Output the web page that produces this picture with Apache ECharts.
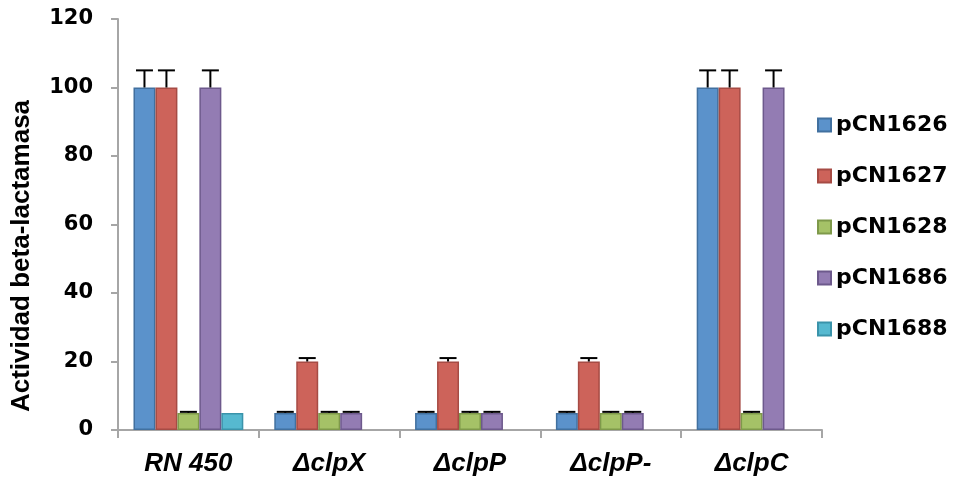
<!DOCTYPE html>
<html lang="es">
<head>
  <meta charset="UTF-8">
  <title>Actividad beta-lactamasa</title>
  <style>
    html,
    body {
      padding: 0;
      margin: 0;
      background: #fff;
    }
    #chart {
      width: 953px;
      height: 479px;
    }
  </style>
  <script src="https://cdn.jsdelivr.net/npm/echarts@6.0.0/dist/echarts.min.js"></script>
</head>
<body>
  <div id="chart"></div>
  <script>
    const categories = ['RN 450', 'ΔclpX', 'ΔclpP', 'ΔclpP-', 'ΔclpC']
    const seriesNames = ['pCN1626', 'pCN1627', 'pCN1628', 'pCN1686', 'pCN1688']
    const pCN1626 = [100, 5, 5, 5, 100]
    const pCN1627 = [100, 20, 20, 20, 100]
    const pCN1628 = [5, 5, 5, 5, 5]
    const pCN1686 = [100, 5, 5, 5, 100]
    const pCN1688 = [5, null, null, null, null]
    const err1626 = [5, 0.3, 0.3, 0.3, 5]
    const err1627 = [5, 1, 1, 1, 5]
    const err1628 = [0.3, 0.3, 0.3, 0.3, 0.3]
    const err1686 = [5, 0.3, 0.3, 0.3, 5]
    const err1688 = [null, null, null, null, null]
    const yTicks = [0, 20, 40, 60, 80, 100, 120]

    const values = [pCN1626, pCN1627, pCN1628, pCN1686, pCN1688]
    const errors = [err1626, err1627, err1628, err1686, err1688]
    const fills = ['#5b92cb', '#cd635a', '#a5c267', '#937cb3', '#56b9d0']
    const borders = ['#41709f', '#a64b44', '#7e994a', '#6d598c', '#3a93aa']

    const wideFont = 'DejaVu Sans'
    const arialFont = 'Liberation Sans'
    const catGap = 0.22
    const axisColor = '#a6a6a6'

    const chart = echarts.init(document.getElementById('chart'))

    // error bar points: [category, series, value, err]
    const errData = []
    values.forEach((vals, s) => {
      vals.forEach((v, c) => {
        const e = errors[s][c]
        if (v != null && e != null) errData.push([c, s, v, e])
      })
    })

    const barSeries = values.map((vals, i) => ({
      name: seriesNames[i],
      type: 'bar',
      data: vals,
      barGap: 0,
      barCategoryGap: (catGap * 100) + '%',
      itemStyle: {
        color: fills[i],
        borderColor: borders[i],
        borderWidth: 1.5
      }
    }))

    const option = {
      animation: false,
      grid: { left: 118, right: 131, top: 19, bottom: 49 },
      legend: {
        orient: 'vertical',
        left: 817,
        top: 114,
        padding: 0,
        icon: 'rect',
        itemWidth: 13,
        itemHeight: 13,
        itemGap: 29,
        textStyle: { fontFamily: wideFont, fontWeight: 'bold', fontSize: 22, color: '#000' },
        data: seriesNames
      },
      xAxis: {
        type: 'category',
        data: categories,
        axisLine: { lineStyle: { color: axisColor, width: 2 } },
        axisTick: { show: true, length: 8, lineStyle: { color: axisColor, width: 2 } },
        axisLabel: {
          margin: 21,
          fontFamily: arialFont,
          fontWeight: 'bold',
          fontStyle: 'italic',
          fontSize: 26,
          color: '#000'
        }
      },
      yAxis: {
        type: 'value',
        min: yTicks[0],
        max: yTicks[yTicks.length - 1],
        interval: 20,
        axisLine: { show: true, lineStyle: { color: axisColor, width: 2 } },
        axisTick: { show: true, length: 7, lineStyle: { color: axisColor, width: 2 } },
        splitLine: { show: false },
        axisLabel: {
          margin: 25,
          fontFamily: wideFont,
          fontWeight: 'bold',
          fontSize: 21,
          color: '#000'
        }
      },
      graphic: [{
        type: 'text',
        x: 22,
        y: 256,
        rotation: Math.PI / 2,
        style: {
          text: 'Actividad beta-lactamasa',
          fontFamily: arialFont,
          fontWeight: 'bold',
          fontSize: 26,
          fill: '#000',
          textAlign: 'center',
          textVerticalAlign: 'middle'
        }
      }],
      series: barSeries.concat([{
        type: 'custom',
        z: 5,
        data: errData,
        renderItem (params, api) {
          const cat = api.value(0)
          const s = api.value(1)
          const v = api.value(2)
          const e = api.value(3)
          const band = api.size([1, 0])[0]
          const barW = band * (1 - catGap) / values.length
          const base = api.coord([cat, v])
          const top = api.coord([cat, v + e])
          const x = base[0] + (s - (values.length - 1) / 2) * barW
          const style = { stroke: '#000', lineWidth: 2 }
          return {
            type: 'group',
            children: [
              { type: 'line', shape: { x1: x, y1: base[1], x2: x, y2: top[1] }, style },
              { type: 'line', shape: { x1: x - 8.5, y1: top[1], x2: x + 8.5, y2: top[1] }, style }
            ]
          }
        }
      }])
    }
    chart.setOption(option)
  </script>
</body>
</html>
